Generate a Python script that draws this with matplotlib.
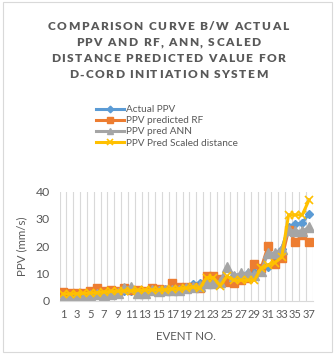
import matplotlib
matplotlib.use("Agg")
import matplotlib.pyplot as plt
from matplotlib.patches import Rectangle

# data ---------------------------------------------------------------------------------------------
events = list(range(1, 38))
actual_ppv = [2.0, 2.2, 2.3, 2.5, 2.6, 3.0, 3.0, 3.2, 3.4, 3.6, 3.5, 3.8, 3.6, 3.9, 4.0, 4.2, 4.3,
              4.6, 5.0, 6.0, 6.5, 7.0, 7.5, 7.5, 8.0, 9.0, 9.5, 10.0, 10.5, 11.5, 12.2, 15.0, 19.0,
              27.0, 28.0, 28.5, 32.0]
ppv_rf = [3.3, 2.8, 3.0, 2.8, 3.5, 4.5, 3.5, 4.0, 3.5, 4.5, 4.0, 4.0, 3.5, 4.5, 4.2, 4.0, 6.5,
          5.0, 5.0, 5.0, 4.5, 9.0, 9.0, 8.0, 7.0, 6.5, 7.5, 8.5, 13.5, 12.0, 20.0, 13.5, 15.5,
          26.0, 21.5, 24.0, 21.5]
ppv_ann = [1.0, 1.2, 1.5, 1.0, 2.0, 2.5, 2.0, 2.5, 3.0, 4.5, 5.0, 3.0, 3.0, 4.0, 3.5, 4.0, 4.0,
           4.0, 4.5, 5.0, 5.5, 6.5, 6.5, 7.0, 12.5, 9.0, 10.0, 10.0, 9.5, 11.0, 17.5, 17.5, 19.0,
           26.0, 25.5, 25.5, 27.0]
ppv_sd = [2.5, 2.5, 2.6, 2.7, 2.8, 3.0, 3.2, 3.4, 3.5, 3.6, 3.7, 3.8, 3.9, 4.0, 4.0, 4.1, 4.3,
          4.4, 4.6, 5.0, 4.5, 8.5, 8.5, 5.5, 9.0, 7.5, 7.5, 7.5, 7.5, 12.0, 13.0, 14.0, 16.0,
          31.5, 31.5, 31.5, 37.0]
tick_labels = [str(e) if e % 2 == 1 else "" for e in events]
title_lines = ["COMPARISON CURVE B/W ACTUAL", "PPV AND RF, ANN, SCALED",
               "DISTANCE PREDICTED VALUE FOR", "D-CORD INITIATION SYSTEM"]

# figure -------------------------------------------------------------------------------------------
W, H = 335, 361
fig = plt.figure(figsize=(W / 100, H / 100), dpi=100)
plt.rcParams["font.family"] = ["Lato", "DejaVu Sans"]
txt = "#595959"

fig.patches.append(Rectangle((2.5 / W, 1 - 352 / H), 329 / W, 350 / H, transform=fig.transFigure,
                             fill=False, edgecolor="#d9d9d9", linewidth=0.8))

ax = fig.add_axes([59.5 / W, 1 - 300.7 / H, 253 / W, 109 / H])

ax.plot(events, actual_ppv, color="#5B9BD5", lw=2.2, marker="D", ms=4.5, label="Actual PPV")
ax.plot(events, ppv_rf, color="#ED7D31", lw=2.2, marker="s", ms=6, label="PPV predicted RF")
ax.plot(events, ppv_ann, color="#A5A5A5", lw=2.2, marker="^", ms=6.5, label="PPV pred ANN")
ax.plot(events, ppv_sd, color="#FFC000", lw=2.2, marker="x", ms=6, mew=1.2,
        label="PPV Pred Scaled distance")

ax.set_xlim(0.5, 37.5)
ax.set_ylim(0, 40)
ax.set_yticks([0, 10, 20, 30, 40])
ax.set_xticks(events)
ax.set_xticklabels(tick_labels)
ax.set_xticks([e + 0.5 for e in range(0, 38)], minor=True)
ax.grid(True, which="minor", axis="x", color="#d9d9d9", lw=0.8)
ax.tick_params(which="both", length=0)
ax.tick_params(axis="y", labelsize=8.8, labelcolor=txt, pad=7)
ax.tick_params(axis="x", labelsize=8, labelcolor=txt, pad=6)
for s in ["top", "right", "left"]:
    ax.spines[s].set_visible(False)
ax.spines["bottom"].set_color("#d9d9d9")
ax.set_axisbelow(True)

ax.set_ylabel("PPV (mm/s)", fontsize=8.3, color=txt, labelpad=6)
ax.set_xlabel("EVENT NO.", fontsize=8.3, color=txt, labelpad=8)

leg = fig.legend(loc="upper left", bbox_to_anchor=(96 / W, 1 - 105 / H), frameon=False,
                 fontsize=7.2, handlelength=2.8, labelspacing=0.22, handletextpad=0.25,
                 borderpad=0, borderaxespad=0, markerscale=0.75)
for t in leg.get_texts():
    t.set_color(txt)

# title with letter spacing
renderer = fig.canvas.get_renderer()
tkw = dict(fontsize=8.6, fontweight="heavy", color=txt)


def char_width(ch):
    if ch == " ":
        a = fig.text(0, 0, "I I", **tkw)
        b = fig.text(0, 0, "II", **tkw)
        w = a.get_window_extent(renderer).width - b.get_window_extent(renderer).width
        a.remove()
        b.remove()
        return w
    t = fig.text(0, 0, ch, **tkw)
    w = t.get_window_extent(renderer).width
    t.remove()
    return w


spacing = 1.4
for i, line in enumerate(title_lines):
    widths = [char_width(c) for c in line]
    total = sum(widths) + spacing * (len(line) - 1)
    x = 168 - total / 2
    y = 27 + 16 * i
    for c, w in zip(line, widths):
        fig.text(x / W, 1 - y / H, c, ha="left", va="center", **tkw)
        x += w + spacing

fig.savefig("out.png", dpi=100)
